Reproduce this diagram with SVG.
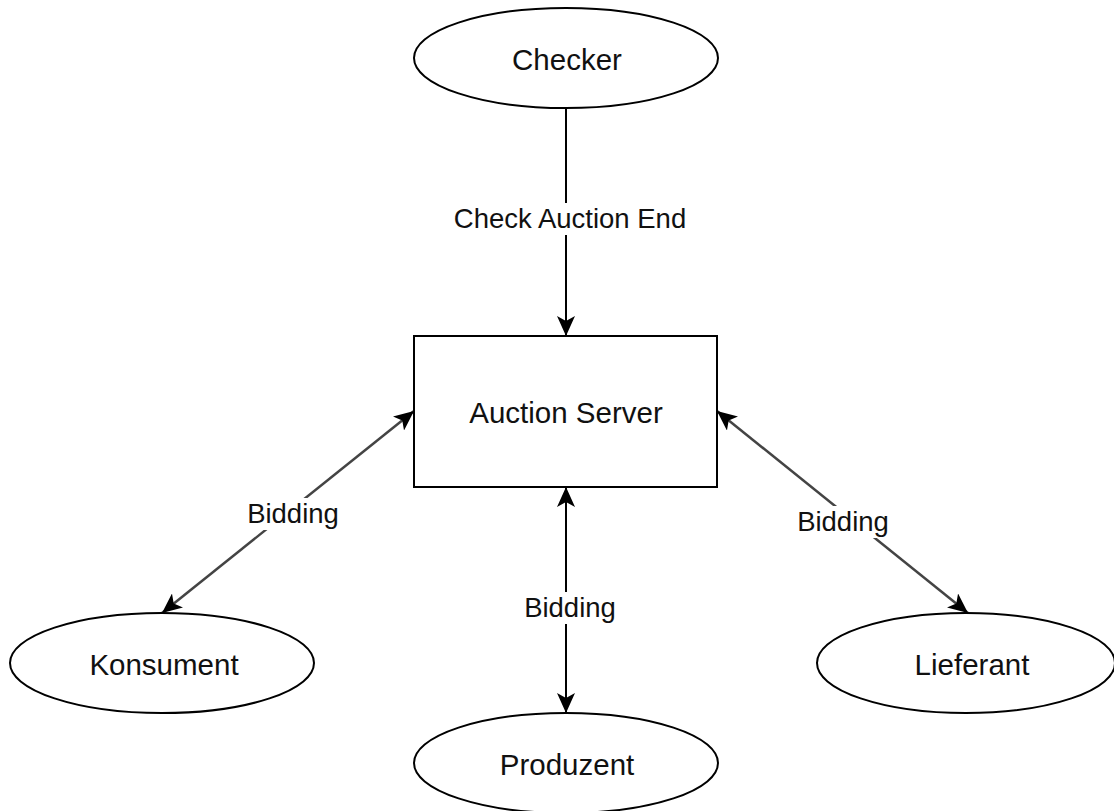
<svg xmlns="http://www.w3.org/2000/svg" width="1114" height="811" viewBox="0 0 1114 811">
  <defs>
    <!-- classic filled arrowhead with a notched back -->
    <marker id="arrow" viewBox="0 0 20 18" refX="20" refY="9" markerWidth="20" markerHeight="18" markerUnits="userSpaceOnUse" orient="auto-start-reverse">
      <path d="M0,0 L20,9 L0,18 L5,9 Z" fill="#000"/>
    </marker>
    <style>
      .node { fill: #fff; stroke: #000; stroke-width: 2; }
      .edge { fill: none; stroke: #000; stroke-width: 2; }
      .diag { stroke: #444; stroke-width: 2.5; }
      .lbl-bg { fill: #fff; }
      text { font-family: "Liberation Sans", Arial, sans-serif; fill: #111; text-anchor: middle; }
      .node-text { font-size: 29.5px; }
      .edge-text { font-size: 27.5px; }
    </style>
  </defs>

  <rect width="1114" height="811" fill="#fff"/>

  <g id="connectors">
    <line class="edge" x1="566" y1="108" x2="566" y2="336" marker-end="url(#arrow)"/>
    <line class="edge diag" x1="414" y1="411" x2="162" y2="613" marker-start="url(#arrow)" marker-end="url(#arrow)"/>
    <line class="edge diag" x1="717" y1="411" x2="968" y2="613" marker-start="url(#arrow)" marker-end="url(#arrow)"/>
    <line class="edge" x1="566" y1="487" x2="566" y2="713" marker-start="url(#arrow)" marker-end="url(#arrow)"/>

    <g id="label-check">
      <rect class="lbl-bg" x="450" y="203" width="240" height="32"/>
      <text class="edge-text" x="570" y="228">Check Auction End</text>
    </g>
    <g id="label-bidding-left">
      <rect class="lbl-bg" x="245" y="498" width="96" height="32"/>
      <text class="edge-text" x="293" y="523">Bidding</text>
    </g>
    <g id="label-bidding-right">
      <rect class="lbl-bg" x="795" y="506" width="96" height="32"/>
      <text class="edge-text" x="843" y="531">Bidding</text>
    </g>
    <g id="label-bidding-mid">
      <rect class="lbl-bg" x="522" y="592" width="96" height="32"/>
      <text class="edge-text" x="570" y="617">Bidding</text>
    </g>
  </g>

  <g id="checker">
    <ellipse class="node" cx="566" cy="58" rx="152" ry="50"/>
    <text class="node-text" x="567" y="70">Checker</text>
  </g>

  <g id="auction-server">
    <rect class="node" x="414" y="336" width="303" height="151"/>
    <text class="node-text" x="566" y="423">Auction Server</text>
  </g>

  <g id="konsument">
    <ellipse class="node" cx="162" cy="663" rx="152" ry="50"/>
    <text class="node-text" x="164" y="675">Konsument</text>
  </g>

  <g id="produzent">
    <ellipse class="node" cx="566" cy="763" rx="152" ry="50"/>
    <text class="node-text" x="567" y="775">Produzent</text>
  </g>

  <g id="lieferant">
    <ellipse class="node" cx="966" cy="663" rx="149" ry="50"/>
    <text class="node-text" x="972" y="675">Lieferant</text>
  </g>
</svg>
